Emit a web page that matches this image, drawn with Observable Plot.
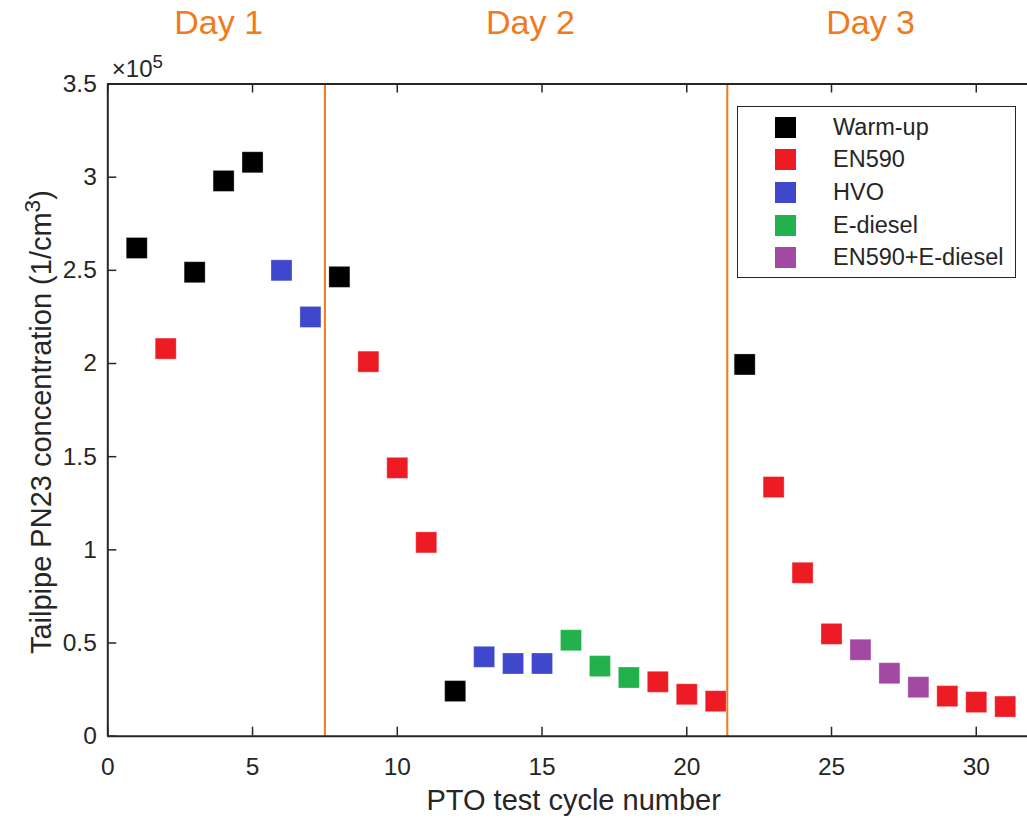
<!DOCTYPE html>
<html>
<head>
<meta charset="utf-8">
<script src="https://cdn.jsdelivr.net/npm/d3@7"></script>
<script src="https://cdn.jsdelivr.net/npm/@observablehq/plot@0.6"></script>
<style>
  body { margin: 0; background: #fff; font-family: "Liberation Sans", Arial, sans-serif; }
  #wrap { position: relative; width: 1027px; height: 818px; overflow: hidden; }
  #legend { position: absolute; left: 737px; top: 106px; width: 279px; height: 172px;
            border: 1px solid #262626; background: #fff; box-sizing: border-box; }
  .row { position: absolute; left: 0; width: 100%; height: 22px; }
  .sw { position: absolute; left: 37px; top: 0; width: 21px; height: 21px; }
  .lab { position: absolute; left: 95px; top: -3px; font-size: 23.5px; color: #262626; line-height: 27px; white-space: nowrap; }
</style>
</head>
<body>
<div id="wrap"></div>
<script>
// ---- data ----
const cycles = [1,2,3,4,5,6,7,8,9,10,11,12,13,14,15,16,17,18,19,20,21,22,23,24,25,26,27,28,29,30,31];
const fuels = ["Warm-up","EN590","Warm-up","Warm-up","Warm-up","HVO","HVO","Warm-up","EN590","EN590","EN590",
  "Warm-up","HVO","HVO","HVO","E-diesel","E-diesel","E-diesel","EN590","EN590","EN590",
  "Warm-up","EN590","EN590","EN590","EN590+E-diesel","EN590+E-diesel","EN590+E-diesel","EN590","EN590","EN590"];
const pn23 = [262000,208000,249000,298000,308000,250000,225000,246500,201000,144000,104000,
  24200,42600,39000,39000,51500,37600,31500,29200,22500,18800,
  199500,133700,87700,54900,46400,33800,26300,21500,18300,15900];
const categories = ["Warm-up","EN590","HVO","E-diesel","EN590+E-diesel"];
const colors = ["#000000","#ED1C24","#3F48CC","#22B14C","#A349A4"];
const dayBoundaries = [7.5, 21.4];
const dayLabels = ["Day 1","Day 2","Day 3"];
const dayLabelX = [3.83, 14.6, 26.35];
const xTicks = [0,5,10,15,20,25,30];
const yTicks = [0,50000,100000,150000,200000,250000,300000,350000];

const data = cycles.map((c,i) => ({cycle: c, fuel: fuels[i], pn: pn23[i]}));
const days = dayLabels.map((t,i) => ({label: t, x: dayLabelX[i]}));

const W = 1027, H = 818, mt = 83.5, mb = 82.3, ml = 107.3, mr = 0;
const innerH = H - mt - mb, innerW = W - ml - mr;
const orange = "#F07A1C";
const ink = "#262626";
const font = "'Liberation Sans', Arial, sans-serif";

const chart = Plot.plot({
  width: W, height: H,
  marginTop: mt, marginBottom: mb, marginLeft: ml, marginRight: mr,
  x: {domain: [0, 31.77]},
  y: {domain: [0, 350000]},
  color: {domain: categories, range: colors},
  style: {fontFamily: font, color: ink, background: "#fff", overflow: "visible"},
  marks: [
    // axis tick labels
    Plot.axisX(xTicks, {tickSize: 0, tickPadding: 21, fontSize: 24.5, label: null, fill: ink}),
    Plot.axisY(yTicks, {tickSize: 0, tickPadding: 11, fontSize: 24.5, label: null, fill: ink,
      tickFormat: d => d3.format("~g")(d / 1e5)}),
    // inward ticks
    Plot.ruleX(xTicks, {x: d => d, insetTop: innerH - 9, stroke: ink, strokeWidth: 1.5}),
    Plot.ruleX(xTicks, {x: d => d, insetBottom: innerH - 9, stroke: ink, strokeWidth: 1.5}),
    Plot.ruleY(yTicks, {y: d => d, insetRight: innerW - 9, stroke: ink, strokeWidth: 1.5}),
    // day separators
    Plot.ruleX(dayBoundaries, {x: d => d, stroke: orange, strokeWidth: 2}),
    // frame lines
    Plot.ruleX([0], {stroke: ink, strokeWidth: 2}),
    Plot.ruleY([0], {stroke: ink, strokeWidth: 2}),
    Plot.ruleY([350000], {stroke: ink, strokeWidth: 2}),
    // points
    Plot.dot(data, {x: "cycle", y: "pn", fill: "fuel", symbol: "square", r: 11.85,
      stroke: "white", strokeOpacity: 0.35, strokeWidth: 0.8}),
    // exponent
    Plot.text(["×10⁵"], {frameAnchor: "top-left", text: d => d, dx: 4, dy: -7,
      textAnchor: "start", lineAnchor: "bottom", fontSize: 24, fill: ink}),
    // day labels
    Plot.text(days, {x: "x", text: "label", frameAnchor: "top", dy: -61,
      lineAnchor: "middle", fontSize: 34, fill: orange}),
    // axis titles
    Plot.text(["PTO test cycle number"], {frameAnchor: "bottom", text: d => d, dx: 6, dy: 65,
      lineAnchor: "middle", fontSize: 29, fill: ink}),
    Plot.text(["Tailpipe PN23 concentration (1/cm³)"], {frameAnchor: "left", text: d => d,
      rotate: -90, dx: -66, dy: 12, textAnchor: "middle", lineAnchor: "middle", fontSize: 29, fill: ink})
  ]
});

// turn the superscript characters into real raised text
d3.select(chart).selectAll("text").each(function () {
  const t = this.textContent;
  const sup = {"⁵": "5", "³": "3"};
  const m = t.match(/[⁵³]/);
  if (!m) return;
  const el = d3.select(this);
  const [before, after] = [t.slice(0, m.index), t.slice(m.index + 1)];
  el.text(null);
  el.append("tspan").text(before);
  el.append("tspan").attr("dy", "-0.5em").attr("font-size", "0.78em").text(sup[m[0]]);
  if (after) el.append("tspan").attr("dy", "0.39em").text(after);
});

const wrap = document.getElementById("wrap");
wrap.appendChild(chart);

// legend
const legend = document.createElement("div");
legend.id = "legend";
categories.forEach((c, i) => {
  const row = document.createElement("div");
  row.className = "row";
  row.style.top = (9.5 + 32.7 * i) + "px";
  const sw = document.createElement("div");
  sw.className = "sw";
  sw.style.background = colors[i];
  const lab = document.createElement("div");
  lab.className = "lab";
  lab.textContent = c;
  row.appendChild(sw); row.appendChild(lab);
  legend.appendChild(row);
});
wrap.appendChild(legend);
</script>
</body>
</html>
